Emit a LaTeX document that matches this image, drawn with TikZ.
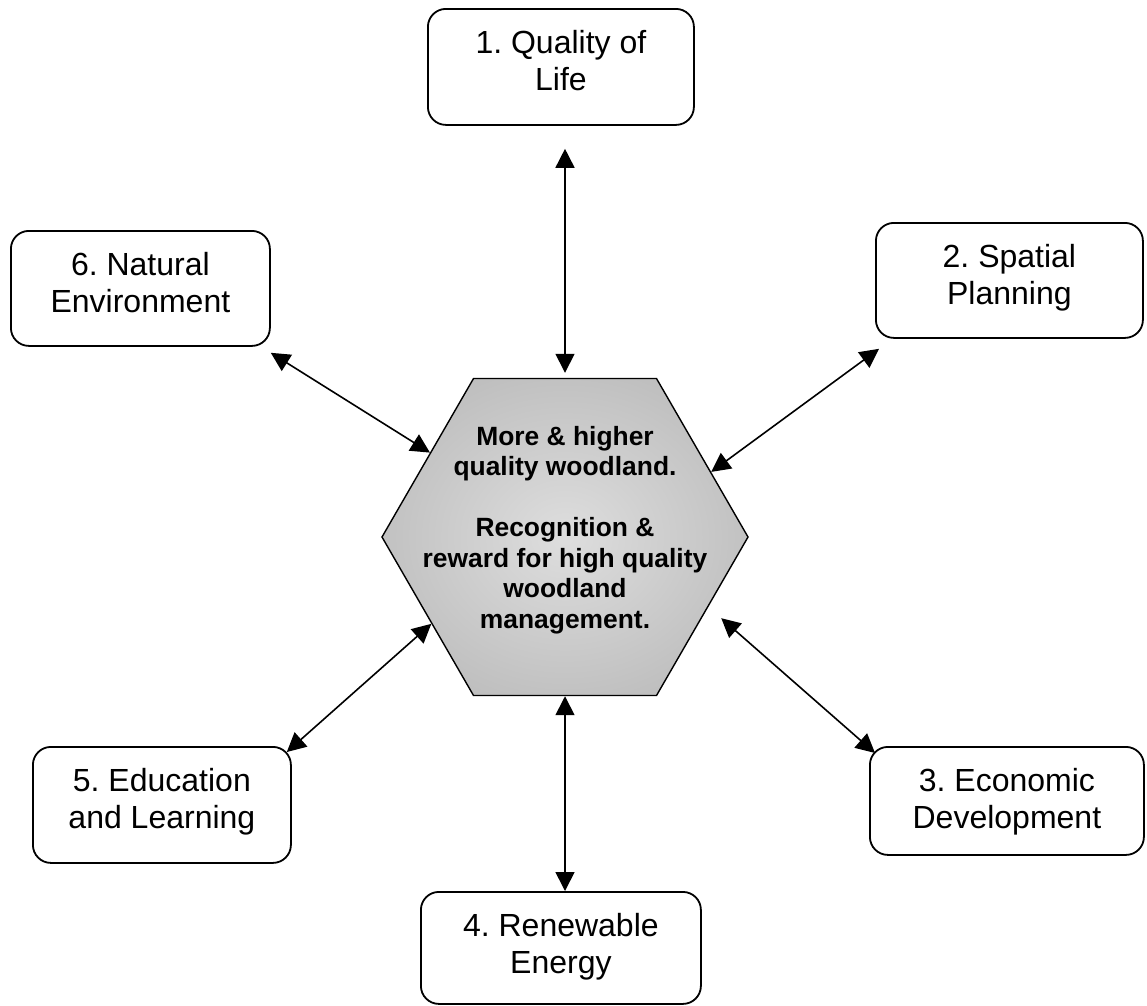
\documentclass[tikz,border=0pt]{standalone}
\usepackage{fontspec}
\setmainfont{Liberation Sans}
\usetikzlibrary{arrows.meta, shapes.geometric}
\frenchspacing
\definecolor{hubinner}{gray}{0.87}
\definecolor{hubouter}{gray}{0.70}
\pgfdeclareradialshading{hubglow}{\pgfpoint{0bp}{0bp}}{color(0bp)=(hubinner); color(38bp)=(hubouter); color(50bp)=(hubouter)}

\begin{document}
\begin{tikzpicture}[x=1pt,y=-1pt,>={Triangle[length=19pt,width=19pt]},
      goal/.style={draw,rounded corners=18pt,line width=1.8pt,align=center,anchor=north west,
        inner xsep=0pt,inner ysep=0pt,text height=81.5pt,font=\fontsize{32}{37}\selectfont},
      hub/.style={draw,regular polygon,regular polygon sides=6,minimum size=366pt,inner sep=0pt,
        line width=1.4pt,shading=hubglow},
      hub text/.style={align=center,anchor=base,font=\bfseries\fontsize{26.4}{30.5}\selectfont}]
      \useasboundingbox (0,0) rectangle (1147,1005);
      \node[hub] (hub) at (565,537) {};
      \node[hub text] (hub_text) at (565,628) {More \& higher\\quality woodland.\\[30.5pt]Recognition \&\\reward for high quality\\woodland\\management.};
      \node[goal,minimum width=266pt,text depth=34.5pt] (goal_1) at (427,8) {1. Quality of\\Life};
      \node[goal,minimum width=267pt,text depth=33.5pt] (goal_2) at (875,222) {2. Spatial\\Planning};
      \node[goal,minimum width=274pt,text depth=26.5pt] (goal_3) at (869,746) {3. Economic\\Development};
      \node[goal,minimum width=280pt,text depth=30.5pt] (goal_4) at (420,891) {4. Renewable\\Energy};
      \node[goal,minimum width=258pt,text depth=34.5pt] (goal_5) at (32,746) {5. Education\\and Learning};
      \node[goal,minimum width=259pt,text depth=33.5pt] (goal_6) at (10,230) {6. Natural\\Environment};
      \path[<->,line width=1.6pt]
      (goal_1.south -| hub) edge [shorten <=23pt,shorten >=5pt] (hub.north)
      (hub.24) edge ([shift={(4pt,-10pt)}]goal_2.south west)
      (hub.334) edge [shorten <=17pt] ([shift={(6pt,-7pt)}]goal_3.north west)
      (hub.south) edge (hub.south |- goal_4.north)
      (hub.213) edge ([shift={(-5pt,-6pt)}]goal_5.north east)
      (hub.148) edge ([yshift=-6pt]goal_6.south east);
    \end{tikzpicture}
\end{document}
